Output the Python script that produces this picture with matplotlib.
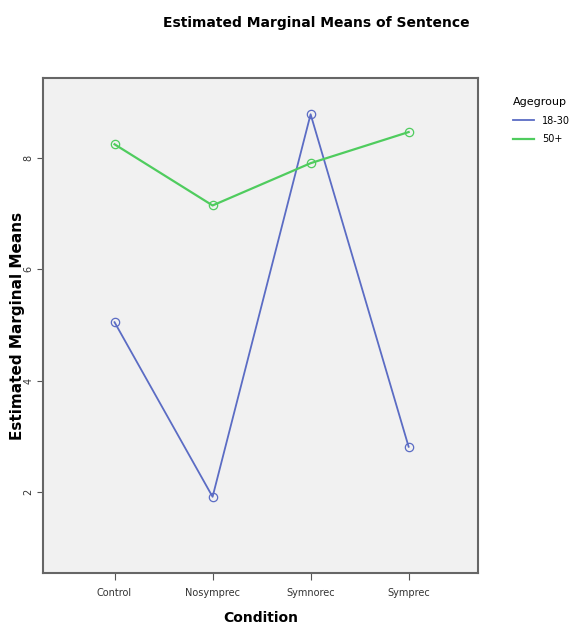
import matplotlib.pyplot as plt

conditions = ["Control", "Nosymprec", "Symnorec", "Symprec"]
young = [5.05, 1.91, 8.79, 2.81]
old = [8.25, 7.15, 7.91, 8.47]
yticks = [2, 4, 6, 8]

fig = plt.figure(figsize=(5.85, 6.28), dpi=100)
ax = fig.add_axes([0.0735, 0.0876, 0.744, 0.788])
ax.set_facecolor("#f1f1f1")

x = range(len(conditions))
ax.plot(x, young, color="#5b6cc4", lw=1.3, marker="o", ms=6, mfc="none", mew=0.9, label="18-30")
ax.plot(x, old, color="#4fcc5e", lw=1.6, marker="o", ms=6, mfc="none", mew=0.9, label="50+")

ax.set_xlim(-0.73, 3.71)
ax.set_ylim(0.54, 9.44)
ax.set_xticks(list(x))
ax.set_xticklabels(conditions, fontsize=7, color="#333333")
ax.set_yticks(yticks)
ax.set_yticklabels([str(v) for v in yticks], fontsize=7, rotation=90, va="center", color="#333333")
ax.tick_params(axis="x", length=5, pad=6, color="#555555")
ax.tick_params(axis="y", length=4, pad=3, color="#555555")

for s in ax.spines.values():
    s.set_color("#666666")
    s.set_linewidth(1.5)

ax.set_xlabel("Condition", fontsize=10, fontweight="bold", labelpad=9)
ax.set_ylabel("Estimated Marginal Means", fontsize=11, fontweight="bold", labelpad=-1)
fig.suptitle("Estimated Marginal Means of Sentence", fontsize=10, fontweight="bold",
             y=0.975, x=0.54)

leg = ax.legend(title="Agegroup", loc="upper left", bbox_to_anchor=(1.06, 0.98), frameon=False,
                fontsize=7, title_fontsize=8, handlelength=2.2, markerscale=0, labelspacing=0.9)
leg._legend_box.align = "left"

fig.savefig("out.png", dpi=100)
